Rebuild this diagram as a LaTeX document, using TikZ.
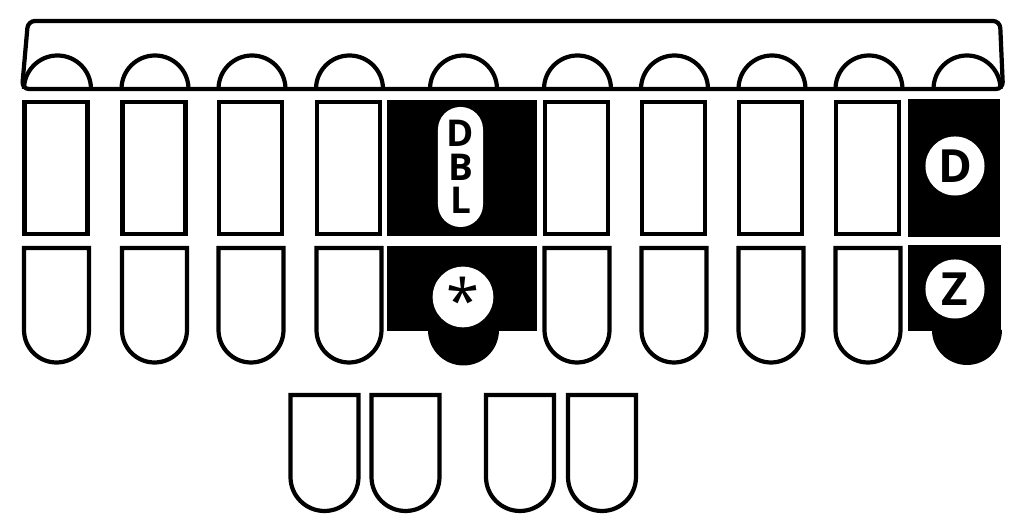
\documentclass[tikz,border=0pt]{standalone}
\usepackage{fontspec}
\setmainfont{Open Sans}
\usetikzlibrary{shapes.geometric}
\def\dome[#1](#2)(#3:#4){\draw[#1] (#2+#4,#3) arc (0:-180:#4);}
\def\fingerkey[#1](#2)(#3:#4:#5){\draw[#1] (#2-#5,#3) -- (#2-#5,#4) arc (180:0:#5) -- (#2+#5,#3) -- cycle;}
\def\upkey[#1](#2){\draw[#1] (#2-31.5,102) rectangle (#2+31.5,234);}

\begin{document}
\begin{tikzpicture}[x=0.01cm, y=-0.01cm,
		keyline/.style={line width=1.2pt},
		pill/.style={fill=white, rounded corners=0.225cm, minimum width=0.45cm, minimum height=1.2cm, inner sep=0pt, align=center, font=\fontsize{10.5}{9.6}\selectfont\bfseries},
		disc/.style={circle, fill=white, minimum size=0.59cm, inner sep=0pt, font=\fontsize{13}{13}\selectfont\bfseries}]
			%%%%% START %%%%%
			\useasboundingbox (0,0) rectangle (1023,531);
			
			\draw[keyline, rounded corners=2pt] (22,89) -- (28,21) -- (1000,21) -- (1003,89) -- cycle;
			
			\dome[keyline](57.5)(89:33.5);
			\dome[keyline](155)(89:33.5);
			\dome[keyline](252)(89:33.5);
			\dome[keyline](349.5)(89:33.5);
			\dome[keyline](463.5)(89:33.5);
			\dome[keyline](577.5)(89:33.5);
			\dome[keyline](674.5)(89:33.5);
			\dome[keyline](772)(89:33.5);
			\dome[keyline](869)(89:33.5);
			\dome[keyline](967)(89:33.5);
			
			\upkey[keyline](56);
			\upkey[keyline](154);
			\upkey[keyline](250.5);
			\upkey[keyline](348.5);
			\upkey[keyline](576.5);
			\upkey[keyline](673.5);
			\upkey[keyline](770.5);
			\upkey[keyline](867.5);
			
			\fingerkey[keyline](56.5)(248:330:32.5);
			\fingerkey[keyline](154.5)(248:330:32.5);
			\fingerkey[keyline](251)(248:330:32.5);
			\fingerkey[keyline](349)(248:330:32.5);
			\fingerkey[keyline](577)(248:330:32.5);
			\fingerkey[keyline](674)(248:330:32.5);
			\fingerkey[keyline](771)(248:330:32.5);
			\fingerkey[keyline](868)(248:330:32.5);
			
			% star column
			\fill (387,100) rectangle (537,236);
			\fill (387,246) rectangle (537,331);
			\fill (499,330) arc (0:180:35.5) -- cycle;
			\node[pill] (dbl) at (460.5,167) {D\\B\\L};
			\node[disc, minimum size=0.6cm, font=\fontsize{17}{17}\selectfont] (star) at (463,297) {\raisebox{-1.6ex}{*}};
			
			% right column
			\fill (908,99) rectangle (1000,237);
			\fill (908,245) rectangle (1001,331);
			\fill (1002,330) arc (0:180:35) -- cycle;
			\node[disc] (d) at (955,166) {D};
			\node[disc] (z) at (955,289) {Z};
			
			% thumb keys
			\fingerkey[keyline](324.5)(395:477:34);
			\fingerkey[keyline](405.5)(395:477:34);
			\fingerkey[keyline](520)(395:477:34);
			\fingerkey[keyline](602)(395:477:34);
			%%%%% END %%%%%
		\end{tikzpicture}
\end{document}
